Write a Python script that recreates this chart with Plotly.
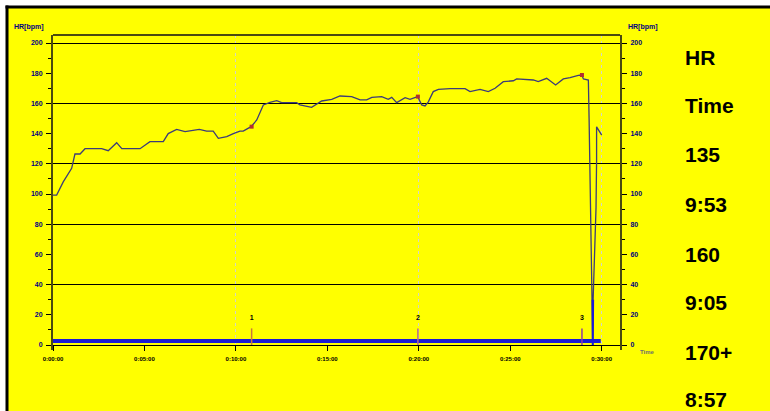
import plotly.graph_objects as go

# ---------------- data ----------------
hr_time_min = [0.00, 0.20, 0.56, 1.02, 1.20, 1.48, 1.75, 2.66, 3.02, 3.48, 3.76, 4.76,
               5.30, 6.03, 6.30, 6.76, 7.22, 7.67, 8.00, 8.40, 8.76, 9.04, 9.50, 9.86,
               10.22, 10.40, 10.83, 11.14, 11.50, 11.86, 12.23, 12.50, 13.32, 13.50,
               14.14, 14.69, 15.24, 15.69, 16.33, 16.79, 17.15, 17.43, 17.97, 18.33,
               18.52, 18.79, 19.25, 19.52, 19.94, 20.16, 20.34, 20.52, 20.79, 21.07,
               21.71, 22.53, 22.80, 23.35, 23.80, 24.17, 24.62, 25.17, 25.35, 26.26,
               26.53, 26.99, 27.27, 27.48, 27.90, 28.27, 28.72, 28.91, 29.00, 29.27,
               29.31, 29.36, 29.40, 29.45, 29.50, 29.51, 29.53, 29.63, 29.69, 29.72,
               29.72, 30.00]
hr_bpm = [99.3, 99.3, 108, 117, 126.5, 126.5, 130, 130, 128.7, 134, 130, 130,
          134.7, 134.7, 140, 142.8, 141.3, 142, 142.8, 141.7, 141.7, 136.9, 138, 140,
          141.7, 141.7, 144.6, 149, 159, 160.7, 161.8, 160.5, 160.5, 159,
          157.4, 161.6, 162.7, 164.9, 164.5, 162.3, 162.3, 164, 164.5, 162.7,
          164, 160.5, 163.8, 162.7, 164.5, 159, 158.3, 161, 167.8, 169.3,
          169.8, 169.8, 167.8, 169.3, 167.8, 170, 174.4, 175, 176.2, 175.5,
          174.4, 176.6, 174.4, 172.2, 176.2, 177, 178.5, 178.8, 176.2, 175.5,
          150, 114, 74, 38, 30, 0, 30, 61, 91, 122,
          144.5, 139]

low_time_min = [29.50, 29.51, 29.53]
low_bpm = [30, 0, 30]

band_time_min = [0, 29.95]
band_value = [2.6, 2.6]

lap_numbers = ["1", "2", "3"]
lap_time_min = [10.86, 19.95, 28.92]
lap_hr = [144.6, 164.5, 178.8]
lap_colors = ["#c8783c", "#b86a8a", "#9040a0"]
lap_tick_top = 11
lap_label_level = 18

x_tick_vals = [0, 5, 10, 15, 20, 25, 30]
x_tick_text = ["0:00:00", "0:05:00", "0:10:00", "0:15:00", "0:20:00", "0:25:00", "0:30:00"]
y_tick_vals = [0, 20, 40, 60, 80, 100, 120, 140, 160, 180, 200]
y_tick_text = [str(v) for v in y_tick_vals]

side_labels = ["HR", "Time", "135", "9:53", "160", "9:05", "170+", "8:57"]

# ---------------- layout helpers ----------------
W, H = 770, 411
L, R, T, B = 53, 150, 35, 61
PW, PH = W - L - R, H - T - B
X_RANGE = [0, 31.0]
Y_RANGE = [-3.31, 205.3]


def px_x(px):
    return (px - L) / PW


def px_y(py):
    return (T + PH - py) / PH


YELLOW = "#ffff00"
NAVY = "#000080"
AXIS_COL = "#4a4a10"

fig = go.Figure()

# main heart-rate curve
fig.add_trace(go.Scatter(x=hr_time_min, y=hr_bpm, mode="lines",
                         line=dict(color="#3c3c78", width=1.3),
                         hoverinfo="skip", xaxis="x", yaxis="y"))
# below-limit part in blue
fig.add_trace(go.Scatter(x=low_time_min, y=low_bpm, mode="lines",
                         line=dict(color="#1a1ad6", width=2),
                         hoverinfo="skip", xaxis="x", yaxis="y"))
# thick blue band at the bottom
fig.add_trace(go.Scatter(x=band_time_min, y=band_value, mode="lines",
                         line=dict(color="#1a1ad6", width=4),
                         hoverinfo="skip", xaxis="x", yaxis="y2"))

# lap markers
for t, h, c, n in zip(lap_time_min, lap_hr, lap_colors, lap_numbers):
    fig.add_trace(go.Scatter(x=[t, t], y=[0, lap_tick_top], mode="lines",
                             line=dict(color=c, width=1.5), hoverinfo="skip",
                             xaxis="x2", yaxis="y3"))
    fig.add_trace(go.Scatter(x=[t], y=[lap_label_level], mode="text", text=[n],
                             textfont=dict(size=7, color="black", family="Liberation Sans",
                                           weight="bold"),
                             hoverinfo="skip", xaxis="x2", yaxis="y3"))
fig.add_trace(go.Scatter(x=lap_time_min, y=lap_hr, mode="markers",
                         marker=dict(symbol="square", size=4, color="#b03030"),
                         hoverinfo="skip", xaxis="x2", yaxis="y3"))

tickfont_y = dict(size=7, color=NAVY, family="Liberation Sans", weight="bold")

fig.update_layout(
    width=W, height=H, autosize=False,
    margin=dict(l=L, r=R, t=T, b=B, pad=0),
    paper_bgcolor=YELLOW, plot_bgcolor=YELLOW,
    showlegend=False,
    xaxis=dict(range=X_RANGE, anchor="free", position=5 / PH,
               tickvals=x_tick_vals, ticktext=x_tick_text,
               ticks="outside", ticklen=5, tickcolor="black", tickwidth=1,
               ticklabelstandoff=3,
               tickfont=dict(size=6, color="black", family="Liberation Sans", weight="bold"),
               showgrid=False, zeroline=False, showline=False),
    xaxis2=dict(range=X_RANGE, overlaying="x", showticklabels=False, ticks="",
                showgrid=True, dtick=10, tick0=0, gridcolor="#d4d4c8", griddash="dot",
                gridwidth=1, zeroline=False, showline=False),
    yaxis=dict(range=Y_RANGE, tickvals=y_tick_vals, ticktext=y_tick_text,
               ticks="outside", ticklen=5, tickcolor="black", tickwidth=1,
               minor=dict(dtick=10, tick0=0, ticks="outside", ticklen=3,
                          tickcolor="black", showgrid=False),
               tickfont=tickfont_y, showgrid=False, zeroline=False,
               showline=True, linecolor=AXIS_COL, linewidth=2, ticklabelstandoff=2),
    yaxis2=dict(range=Y_RANGE, overlaying="y", side="right", anchor="x",
                tickvals=y_tick_vals, ticktext=y_tick_text,
                ticks="outside", ticklen=5, tickcolor="black", tickwidth=1,
                minor=dict(dtick=10, tick0=0, ticks="outside", ticklen=3,
                           tickcolor="black", showgrid=False),
                tickfont=tickfont_y, showgrid=False, zeroline=False,
                showline=True, linecolor=AXIS_COL, linewidth=2, ticklabelstandoff=2),
    yaxis3=dict(range=Y_RANGE, overlaying="y", anchor="x2", showticklabels=False,
                ticks="", showgrid=True, dtick=40, tick0=0, gridcolor="black",
                gridwidth=1, zeroline=False, showline=False),
)

shapes = [
    # white strips and black frame edges
    dict(type="rect", xref="paper", yref="paper", x0=px_x(0), x1=px_x(W),
         y0=px_y(0), y1=px_y(6), fillcolor="white", line=dict(width=0), layer="above"),
    dict(type="rect", xref="paper", yref="paper", x0=px_x(0), x1=px_x(6),
         y0=px_y(0), y1=px_y(H), fillcolor="white", line=dict(width=0), layer="above"),
    dict(type="line", xref="paper", yref="paper", x0=px_x(5.5), x1=px_x(W),
         y0=px_y(7), y1=px_y(7), line=dict(color="black", width=3), layer="above"),
    dict(type="line", xref="paper", yref="paper", x0=px_x(7), x1=px_x(7),
         y0=px_y(5.5), y1=px_y(H), line=dict(color="black", width=3), layer="above"),
    # top edge of plot box
    dict(type="line", xref="paper", yref="paper", x0=0, x1=1, y0=1, y1=1,
         line=dict(color=AXIS_COL, width=2), layer="above"),
]
fig.update_layout(shapes=shapes)

annotations = [
    dict(text="HR[bpm]", xref="paper", yref="paper", x=px_x(29), y=px_y(27),
         xanchor="center", yanchor="middle", showarrow=False,
         font=dict(size=7, color=NAVY, family="Liberation Sans", weight="bold")),
    dict(text="HR[bpm]", xref="paper", yref="paper", x=px_x(643), y=px_y(27),
         xanchor="center", yanchor="middle", showarrow=False,
         font=dict(size=7, color=NAVY, family="Liberation Sans", weight="bold")),
    dict(text="Time", xref="paper", yref="paper", x=px_x(638), y=px_y(352),
         xanchor="left", yanchor="middle", showarrow=False,
         font=dict(size=6, color="#707070", family="Liberation Sans", weight="bold")),
]
side_y = [57.5, 105, 154.5, 204, 254, 302, 352, 400]
for lab, yy in zip(side_labels, side_y):
    annotations.append(dict(text=lab, xref="paper", yref="paper", x=px_x(683), y=px_y(yy),
                            xanchor="left", yanchor="middle", showarrow=False,
                            font=dict(size=21, color="black", family="Liberation Sans",
                                      weight="bold")))
fig.update_layout(annotations=annotations)

fig.write_html("out.html")
